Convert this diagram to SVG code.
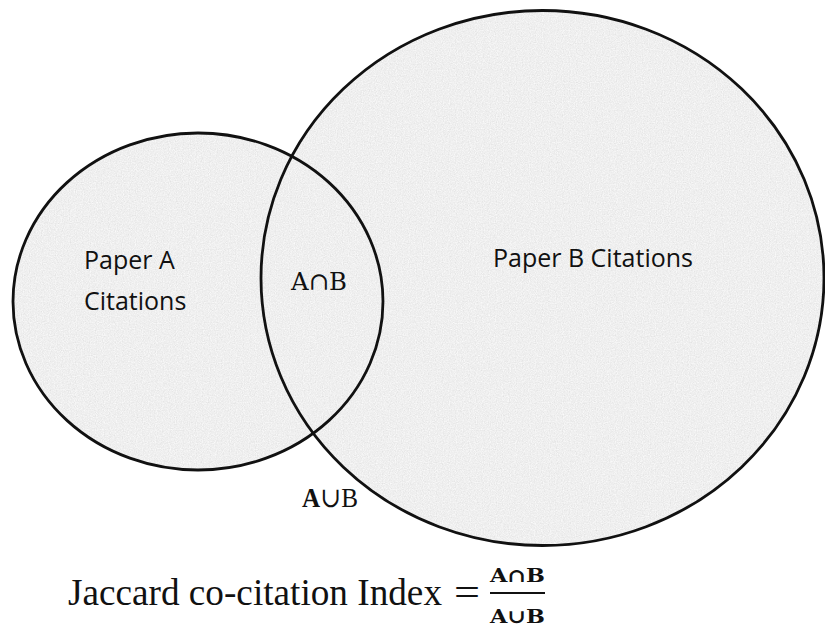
<svg xmlns="http://www.w3.org/2000/svg" width="825" height="628" viewBox="0 0 825 628">
  <defs>
    <filter id="grain" filterUnits="objectBoundingBox" x="0" y="0" width="1" height="1">
      <feTurbulence type="fractalNoise" baseFrequency="0.85" numOctaves="2" seed="7" result="noise"/>
      <feColorMatrix in="noise" type="saturate" values="0" result="gray"/>
      <feComponentTransfer in="gray" result="tone">
        <feFuncR type="linear" slope="0.35" intercept="0.69"/>
        <feFuncG type="linear" slope="0.35" intercept="0.69"/>
        <feFuncB type="linear" slope="0.35" intercept="0.69"/>
        <feFuncA type="linear" slope="0" intercept="1"/>
      </feComponentTransfer>
      <feComposite in="tone" in2="SourceGraphic" operator="in"/>
    </filter>
  </defs>
  <style>
    .set { fill: #e6e6e6; stroke: none; }
    .edge { fill: none; stroke: #111; stroke-width: 2.8; }
    .lbl { font-family: "Open Sans", "Noto Sans", sans-serif; font-size: 25px; fill: #111; }
    .math { font-family: "DejaVu Serif", "Liberation Serif", serif; fill: #111; }
    .eq { font-family: "Liberation Serif", "DejaVu Serif", serif; fill: #111; }
  </style>
  <rect width="825" height="628" fill="#ffffff"/>
  <g id="set-fills">
    <ellipse class="set" cx="542.5" cy="278" rx="281.5" ry="267.5" filter="url(#grain)"/>
    <ellipse class="set" cx="198" cy="301.5" rx="185" ry="168.5" filter="url(#grain)"/>
  </g>
  <g id="circle-b">
    <ellipse class="edge" cx="542.5" cy="278" rx="281.5" ry="267.5"/>
    <text class="lbl" x="493" y="267">Paper B Citations</text>
  </g>
  <g id="circle-a">
    <ellipse class="edge" cx="198" cy="301.5" rx="185" ry="168.5"/>
    <text class="lbl" x="84" y="269">Paper A</text>
    <text class="lbl" x="84" y="310">Citations</text>
  </g>
  <g id="intersection">
    <text class="math" x="291" y="290" font-size="25" textLength="56" lengthAdjust="spacingAndGlyphs">A∩B</text>
  </g>
  <g id="union">
    <text class="eq" x="302" y="507" font-size="28" textLength="56" lengthAdjust="spacingAndGlyphs"><tspan font-weight="bold">A</tspan>∪B</text>
  </g>
  <g id="equation">
    <text class="eq" x="68" y="605" font-size="37" textLength="374" lengthAdjust="spacingAndGlyphs">Jaccard co-citation Index</text>
    <text class="eq" x="454" y="605" font-size="37" textLength="26" lengthAdjust="spacingAndGlyphs">=</text>
    <text class="math" x="490" y="582" font-size="19" font-weight="bold" textLength="55" lengthAdjust="spacingAndGlyphs">A∩B</text>
    <line x1="490" y1="593" x2="545" y2="593" stroke="#111" stroke-width="2.2"/>
    <text class="math" x="490" y="623" font-size="19" font-weight="bold" textLength="55" lengthAdjust="spacingAndGlyphs">A∪B</text>
  </g>
</svg>
